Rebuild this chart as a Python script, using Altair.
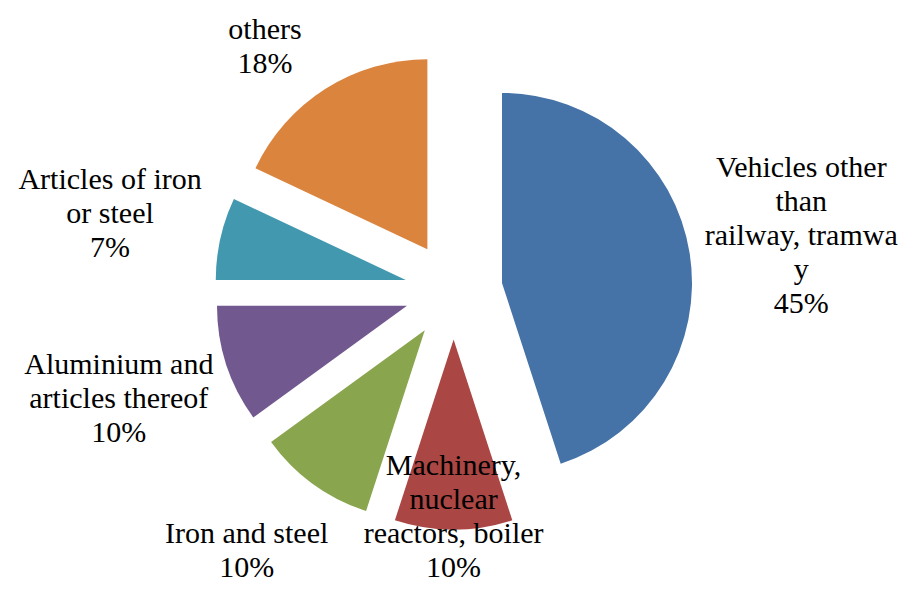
import altair as alt
import pandas as pd

# ---- data ----
categories = [
    "Vehicles other than railway, tramway",
    "Machinery, nuclear reactors, boiler",
    "Iron and steel",
    "Aluminium and articles thereof",
    "Articles of iron or steel",
    "others",
]
label_text = [
    "Vehicles other\nthan\nrailway, tramwa\ny",
    "Machinery,\nnuclear\nreactors,  boiler",
    "Iron and steel",
    "Aluminium and\narticles thereof",
    "Articles of iron\nor steel",
    "others",
]
shares = [45, 10, 10, 10, 7, 18]
colors = ["#4572A7", "#AA4643", "#89A54E", "#71588F", "#4198AF", "#DB843D"]

df = pd.DataFrame({
    "idx": list(range(len(categories))),
    "category": categories,
    "label": label_text,
    "share": shares,
})

# ---- layout constants ----
W, H = 900, 574
CX, CY = 445.6, 282.6      # pie centre (px)
EXPLODE = 49               # slice explosion distance (px)
RADIUS = 190               # slice radius (px)
LABEL_R = 352              # label distance from centre (px)
LINE_H = 34

base = (
    alt.Chart(df)
    .transform_joinaggregate(total="sum(share)")
    .transform_window(cum="sum(share)", sort=[alt.SortField("idx", order="ascending")], frame=[None, 0])
    .transform_calculate(mid="2*PI*(datum.cum - datum.share/2)/datum.total")
    .transform_calculate(
        px=f"{CX} + {EXPLODE}*sin(datum.mid)",
        py=f"{CY} - {EXPLODE}*cos(datum.mid)",
        text="datum.label + '\\n' + format(datum.share/datum.total, '.0%')",
    )
    .transform_calculate(nl="length(split(datum.text, '\\n'))")
    .transform_calculate(half=f"(datum.nl-1)*{LINE_H}/2")
    .transform_calculate(
        lx=f"{CX} + {LABEL_R}*sin(datum.mid)",
        lc=f"clamp({CY} - {LABEL_R}*cos(datum.mid), datum.half + 22, {H} - datum.half - 14)",
    )
    .transform_calculate(ly="datum.lc - datum.half")
)

arcs = base.mark_arc(outerRadius=RADIUS).encode(
    theta=alt.Theta("share:Q", stack=True),
    order=alt.Order("idx:Q", sort="ascending"),
    color=alt.Color("category:N", scale=alt.Scale(domain=categories, range=colors), legend=None),
    x=alt.X("px:Q", scale=None, axis=None),
    y=alt.Y("py:Q", scale=None, axis=None),
)

texts = base.mark_text(
    font="Liberation Serif", fontSize=30, lineHeight=LINE_H, lineBreak="\n",
    align="center", baseline="middle", color="black",
).encode(
    x=alt.X("lx:Q", scale=None, axis=None),
    y=alt.Y("ly:Q", scale=None, axis=None),
    text="text:N",
)

chart = (
    alt.layer(arcs, texts)
    .properties(width=W, height=H, autosize=alt.AutoSizeParams(type="none"), padding=0)
    .configure_view(stroke="transparent")
)

chart.save("out.html", embed_options={"renderer": "svg", "actions": False})
